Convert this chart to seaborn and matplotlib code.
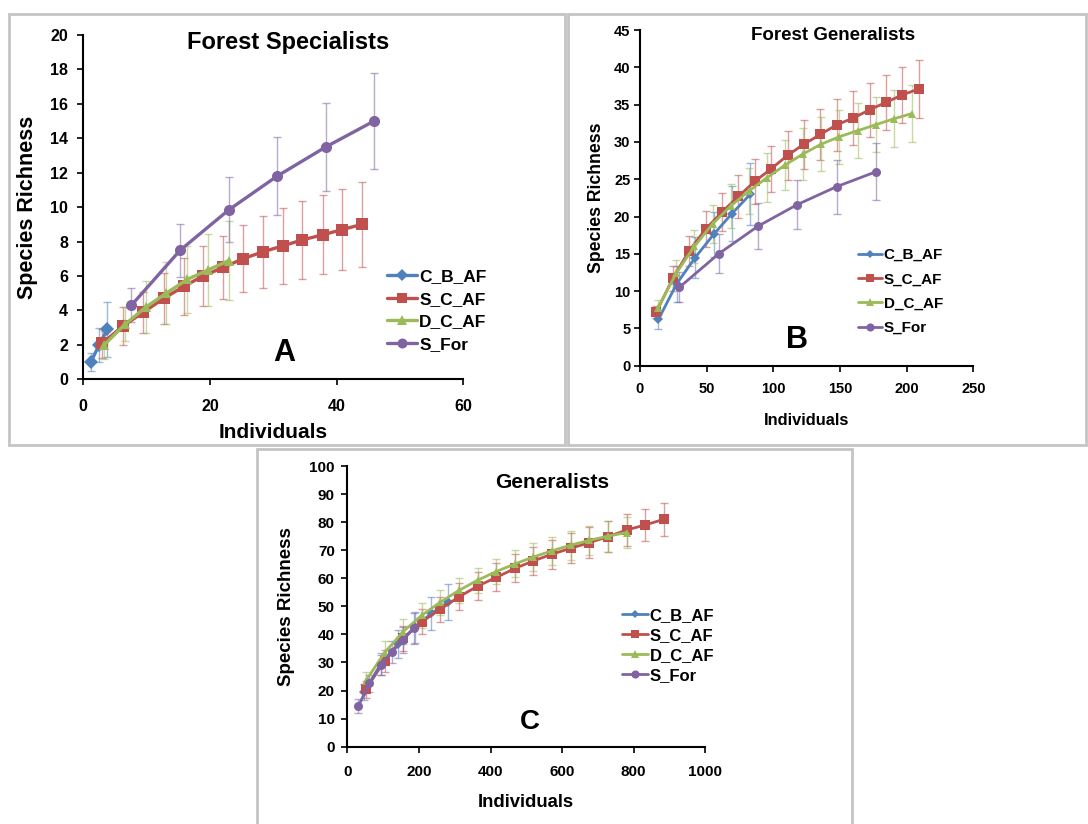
import numpy as np
import pandas as pd
import seaborn as sns
import matplotlib
matplotlib.use("Agg")
import matplotlib.pyplot as plt
from matplotlib.patches import Rectangle
from matplotlib.lines import Line2D

sns.set_theme(style="white")
plt.rcParams['font.family'] = ['Liberation Sans', 'DejaVu Sans']
plt.rcParams['font.weight'] = 'bold'
plt.rcParams['text.color'] = 'black'
plt.rcParams['axes.labelcolor'] = 'black'
plt.rcParams['xtick.color'] = 'black'
plt.rcParams['ytick.color'] = 'black'

series_names = ["C_B_AF", "S_C_AF", "D_C_AF", "S_For"]
colors = ["#4F81BD", "#C0504D", "#9BBB59", "#8064A2"]
markers = ["D", "s", "^", "o"]

# ---------------- Panel A : Forest Specialists ----------------
a_cbaf_x = [1.2, 2.5, 3.8]
a_cbaf_y = [1.0, 2.0, 2.9]
a_cbaf_e = [0.5, 1.0, 1.6]
a_scaf_x = [3.0, 6.3, 9.5, 12.7, 15.9, 18.9, 22.1, 25.2, 28.3, 31.5, 34.6, 37.9, 40.9, 44.0]
a_scaf_y = [2.1, 3.1, 3.9, 4.7, 5.4, 6.0, 6.5, 7.0, 7.4, 7.75, 8.1, 8.4, 8.7, 9.0]
a_scaf_e = [0.85, 1.1, 1.2, 1.5, 1.65, 1.75, 1.85, 1.95, 2.1, 2.2, 2.25, 2.3, 2.35, 2.45]
a_dcaf_x = [3.3, 6.6, 9.9, 13.1, 16.4, 19.7, 23.0]
a_dcaf_y = [2.0, 3.2, 4.2, 5.0, 5.8, 6.35, 6.9]
a_dcaf_e = [0.8, 1.0, 1.5, 1.8, 1.95, 2.1, 2.3]
a_sfor_x = [7.6, 15.3, 23.0, 30.6, 38.3, 45.9]
a_sfor_y = [4.3, 7.5, 9.85, 11.8, 13.5, 15.0]
a_sfor_e = [1.0, 1.55, 1.9, 2.25, 2.55, 2.8]

# ---------------- Panel B : Forest Generalists ----------------
b_cbaf_x = [13.8, 27.6, 41.4, 55.2, 69.0, 82.8]
b_cbaf_y = [6.2, 11.0, 14.5, 17.6, 20.4, 23.0]
b_cbaf_e = [1.3, 2.4, 2.8, 3.0, 3.7, 4.2]
b_scaf_x = [12.3, 24.6, 36.9, 49.2, 61.5, 73.8, 86.1, 98.4, 110.7, 123.0, 135.3,
            147.6, 159.9, 172.2, 184.5, 196.8, 209.1]
b_scaf_y = [7.2, 11.7, 15.4, 18.3, 20.6, 22.7, 24.7, 26.4, 28.2, 29.7, 31.0,
            32.3, 33.2, 34.3, 35.3, 36.3, 37.1]
b_scaf_e = [0.8, 1.7, 2.0, 2.4, 2.6, 2.9, 3.0, 3.1, 3.3, 3.3, 3.4,
            3.5, 3.6, 3.6, 3.7, 3.8, 3.9]
b_dcaf_x = [13.6, 27.2, 40.8, 54.4, 68.0, 81.6, 95.2, 108.8, 122.4, 136.0,
            149.6, 163.2, 176.8, 190.4, 204.0]
b_dcaf_y = [7.8, 12.4, 16.0, 19.0, 21.4, 23.4, 25.2, 26.9, 28.4, 29.7,
            30.7, 31.5, 32.3, 33.1, 33.8]
b_dcaf_e = [1.0, 1.8, 2.2, 2.5, 2.9, 3.1, 3.3, 3.4, 3.5, 3.6,
            3.6, 3.7, 3.7, 3.8, 3.8]
b_sfor_x = [29.5, 59.0, 88.5, 118.0, 147.5, 177.0]
b_sfor_y = [10.5, 15.0, 18.7, 21.6, 24.0, 26.0]
b_sfor_e = [2.0, 2.6, 3.1, 3.3, 3.6, 3.8]

# ---------------- Panel C : Generalists ----------------
c_cbaf_x = [47, 94, 141, 188, 235, 282]
c_cbaf_y = [19.5, 29.5, 36.5, 42.5, 47.5, 51.5]
c_cbaf_e = [3.0, 4.0, 5.0, 5.5, 6.0, 6.5]
c_scaf_x = [52, 104, 156, 208, 260, 312, 364, 416, 468, 520, 572, 624, 676,
            728, 780, 832, 884]
c_scaf_y = [20.4, 30.6, 38.6, 44.5, 49.0, 53.4, 57.2, 60.3, 63.5, 66.2, 68.6,
            70.7, 72.7, 74.8, 77.2, 79.0, 81.0]
c_scaf_e = [3.0, 4.0, 4.5, 4.5, 4.5, 4.8, 5.0, 5.0, 5.0, 5.0, 5.2, 5.3, 5.4,
            5.5, 5.6, 5.7, 5.8]
c_dcaf_x = [52, 104, 156, 208, 260, 312, 364, 416, 468, 520, 572, 624, 676,
            728, 780]
c_dcaf_y = [23.5, 33.5, 41.0, 46.8, 51.5, 55.7, 59.3, 62.4, 65.1, 67.6, 69.8,
            71.8, 73.5, 75.0, 76.3]
c_dcaf_e = [3.0, 4.0, 4.5, 4.5, 4.5, 4.5, 4.5, 4.5, 4.8, 5.0, 5.0, 5.2, 5.3,
            5.5, 5.6]
c_sfor_x = [31, 62, 93, 124, 155, 186]
c_sfor_y = [14.5, 22.6, 29.1, 33.8, 38.0, 42.2]
c_sfor_e = [2.5, 3.0, 3.5, 4.0, 4.5, 5.5]


def make_df(xs, ys, es):
    frames = []
    for name, x, y, e in zip(series_names, xs, ys, es):
        frames.append(pd.DataFrame({"Individuals": x, "Richness": y, "err": e, "series": name}))
    return pd.concat(frames, ignore_index=True)


dfA = make_df([a_cbaf_x, a_scaf_x, a_dcaf_x, a_sfor_x],
              [a_cbaf_y, a_scaf_y, a_dcaf_y, a_sfor_y],
              [a_cbaf_e, a_scaf_e, a_dcaf_e, a_sfor_e])
dfB = make_df([b_cbaf_x, b_scaf_x, b_dcaf_x, b_sfor_x],
              [b_cbaf_y, b_scaf_y, b_dcaf_y, b_sfor_y],
              [b_cbaf_e, b_scaf_e, b_dcaf_e, b_sfor_e])
dfC = make_df([c_cbaf_x, c_scaf_x, c_dcaf_x, c_sfor_x],
              [c_cbaf_y, c_scaf_y, c_dcaf_y, c_sfor_y],
              [c_cbaf_e, c_scaf_e, c_dcaf_e, c_sfor_e])

fig = plt.figure(figsize=(10.88, 8.24), dpi=100)
W, H = 1088.0, 824.0


def fr(x0, y_top, x1, y_bot):
    return [x0 / W, 1 - y_bot / H, (x1 - x0) / W, (y_bot - y_top) / H]


# panel frames
for (x0, y0, x1, y1) in [(9, 14, 565, 445), (568, 14, 1086, 445), (257, 449, 852, 830)]:
    fig.patches.append(Rectangle((x0 / W, 1 - y1 / H), (x1 - x0) / W, (y1 - y0) / H,
                                 transform=fig.transFigure, fill=False,
                                 edgecolor="#c4c4c4", linewidth=2.0, zorder=0))


def draw_panel(ax, df, xlim, xticks, ylim, yticks, title, title_pos, letter, letter_pos,
               letter_fs, tick_fs, xpad, ypad, xlab_fs, ylab_fs, title_fs, leg_fs,
               leg_anchor, ms, lw, xlabpad, ylabpad, handlelength, labelspacing):
    msizes = {"C_B_AF": ms[0], "S_C_AF": ms[1], "D_C_AF": ms[2], "S_For": ms[3]}
    for name, col in zip(series_names, colors):
        sub = df[df.series == name]
        ax.errorbar(sub["Individuals"], sub["Richness"], yerr=sub["err"], fmt="none",
                    ecolor=col, elinewidth=1.0, capsize=3, capthick=1.0, alpha=0.55, zorder=2)
    sns.lineplot(data=df, x="Individuals", y="Richness", hue="series", style="series",
                 hue_order=series_names, style_order=series_names,
                 palette=dict(zip(series_names, colors)),
                 markers=dict(zip(series_names, markers)), dashes=False,
                 linewidth=lw, markeredgewidth=0, ax=ax, legend=False, zorder=3,
                 sort=False, estimator=None)
    for line, name in zip(ax.get_lines()[-4:], series_names):
        line.set_markersize(msizes[name])
    ax.set_xlim(*xlim)
    ax.set_ylim(*ylim)
    ax.set_xticks(xticks)
    ax.set_yticks(yticks)
    for s in ["top", "right"]:
        ax.spines[s].set_visible(False)
    for s in ["left", "bottom"]:
        ax.spines[s].set_color("black")
        ax.spines[s].set_linewidth(1.5)
    ax.tick_params(axis="both", direction="out", length=4, width=1.2, color="black",
                   labelsize=tick_fs, left=True, bottom=True)
    ax.tick_params(axis="x", pad=xpad)
    ax.tick_params(axis="y", pad=ypad)
    for lab in ax.get_xticklabels() + ax.get_yticklabels():
        lab.set_fontweight("bold")
    ax.set_xlabel("Individuals", fontsize=xlab_fs, fontweight="bold", labelpad=xlabpad)
    ax.set_ylabel("Species Richness", fontsize=ylab_fs, fontweight="bold", labelpad=ylabpad)
    ax.text(title_pos[0], title_pos[1], title, transform=ax.transAxes, ha="center",
            va="center", fontsize=title_fs, fontweight="bold")
    ax.text(letter_pos[0], letter_pos[1], letter, transform=ax.transAxes, ha="center",
            va="center", fontsize=letter_fs, fontweight="bold")
    handles = [Line2D([0], [0], color=c, marker=m, lw=lw, markersize=ms[i] * 0.9,
                      markeredgewidth=0)
               for i, (c, m) in enumerate(zip(colors, markers))]
    leg = ax.legend(handles, series_names, loc="center left", bbox_to_anchor=leg_anchor,
                    frameon=False, fontsize=leg_fs, handlelength=handlelength,
                    handletextpad=0.12, labelspacing=labelspacing, borderpad=0,
                    borderaxespad=0, numpoints=1)
    for t in leg.get_texts():
        t.set_fontweight("bold")
    ax.set_facecolor("white")


axA = fig.add_axes(fr(83.3, 35, 463.3, 379.3))
draw_panel(axA, dfA, (0, 60), [0, 20, 40, 60], (0, 20), list(range(0, 21, 2)),
           "Forest Specialists", (0.54, 0.978), "A", (0.53, 0.075), 22,
           tick_fs=11.5, xpad=10, ypad=7, xlab_fs=15, ylab_fs=15.5, title_fs=17,
           leg_fs=12.5, leg_anchor=(0.80, 0.20),
           ms=(7, 8.5, 7.5, 8), lw=2.4, xlabpad=7, ylabpad=9, handlelength=1.72,
           labelspacing=0.44)

axB = fig.add_axes(fr(640, 30, 973.3, 365.7))
draw_panel(axB, dfB, (0, 250), [0, 50, 100, 150, 200, 250], (0, 45), list(range(0, 46, 5)),
           "Forest Generalists", (0.58, 0.985), "B", (0.471, 0.077), 22,
           tick_fs=10.5, xpad=8, ypad=3, xlab_fs=11.8, ylab_fs=12.7, title_fs=13.5,
           leg_fs=11, leg_anchor=(0.654, 0.221),
           ms=(5, 6.5, 6, 6.5), lw=2.0, xlabpad=12, ylabpad=6, handlelength=1.57,
           labelspacing=0.68)

axC = fig.add_axes(fr(347.3, 466, 705.3, 746.7))
draw_panel(axC, dfC, (0, 1000), [0, 200, 400, 600, 800, 1000], (0, 100),
           list(range(0, 101, 10)),
           "Generalists", (0.573, 0.94), "C", (0.511, 0.088), 20,
           tick_fs=11, xpad=9, ypad=5, xlab_fs=13.3, ylab_fs=13.5, title_fs=15,
           leg_fs=12, leg_anchor=(0.767, 0.36),
           ms=(5, 7, 6, 6.5), lw=2.0, xlabpad=11, ylabpad=10, handlelength=1.55,
           labelspacing=0.3)

fig.savefig("out.png", dpi=100, facecolor="white")
